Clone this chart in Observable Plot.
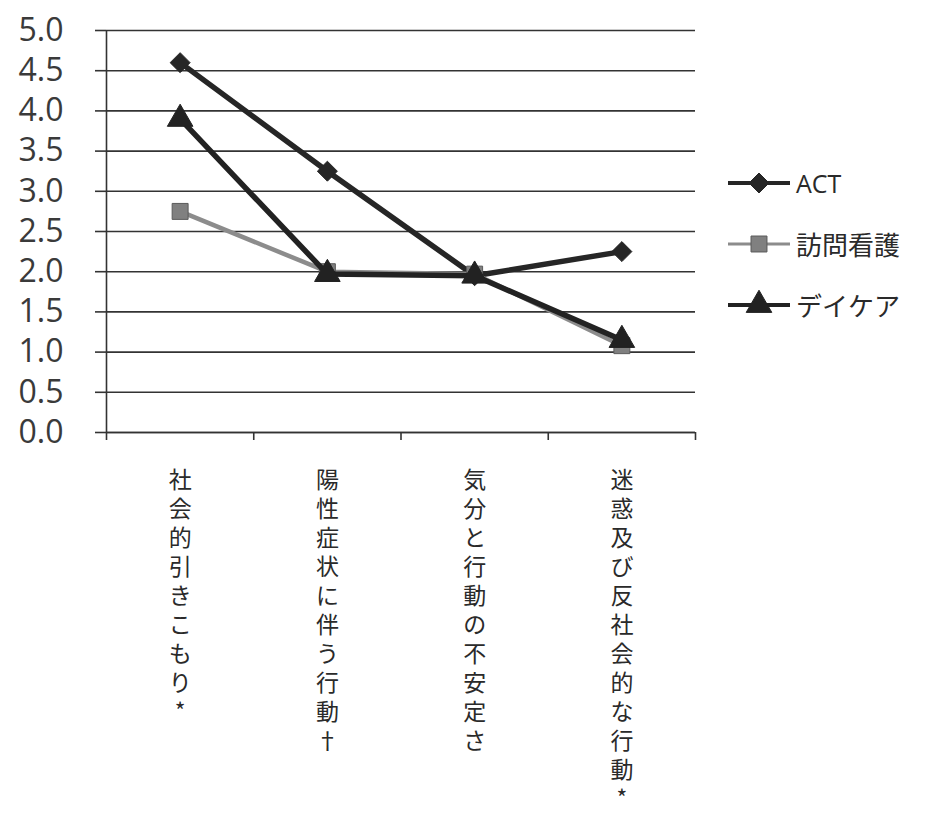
<!DOCTYPE html>
<html>
<head>
<meta charset="utf-8">
<script src="https://cdn.jsdelivr.net/npm/d3@7"></script>
<script src="https://cdn.jsdelivr.net/npm/@observablehq/plot@0.6"></script>
<style>
  body { margin: 0; background: #fff; }
  #wrap { position: relative; width: 927px; height: 815px; }
  #legend { position: absolute; left: 726px; top: 152px; font-family: "Open Sans", "Noto Sans CJK JP", sans-serif; color: #2a2a2a; }
  .row { display: flex; align-items: center; height: 61px; }
  .row span { font-size: 25px; margin-left: 4px; }
  .row span.jp { font-family: "Noto Sans CJK JP", sans-serif; font-size: 26px; }
</style>
</head>
<body>
<div id="wrap"></div>
<script>
const categories = ["社会的引きこもり*", "陽性症状に伴う行動†", "気分と行動の不安定さ", "迷惑及び反社会的な行動*"];
const seriesNames = ["ACT", "訪問看護", "デイケア"];
const actValues = [4.6, 3.25, 1.95, 2.25];
const houmonValues = [2.75, 2.0, 1.97, 1.08];
const daycareValues = [3.9, 1.97, 1.95, 1.15];
const yTicks = [0, 0.5, 1, 1.5, 2, 2.5, 3, 3.5, 4, 4.5, 5];

const styles = {
  "ACT": {stroke: "#262626", fill: "#262626", width: 5.5, symbol: "diamond2", r: 9, mstroke: "#262626"},
  "訪問看護": {stroke: "#8c8c8c", fill: "#808080", width: 4.5, symbol: "square", r: 9, mstroke: "#5a5a5a"},
  "デイケア": {stroke: "#222222", fill: "#222222", width: 5.5, symbol: "triangle", r: 9.5, mstroke: "#222222"}
};
const valuesBy = {"ACT": actValues, "訪問看護": houmonValues, "デイケア": daycareValues};
const rows = seriesNames.flatMap(s => valuesBy[s].map((v, i) => ({series: s, i, value: v})));
const bandEdges = d3.range(categories.length + 1).map(k => k - 0.5);

const seriesMarks = seriesNames.flatMap(s => {
  const st = styles[s];
  const data = rows.filter(r => r.series === s);
  return [
    Plot.line(data, {x: "i", y: "value", stroke: st.stroke, strokeWidth: st.width}),
    Plot.dot(data, {x: "i", y: "value", symbol: () => st.symbol, r: st.r, fill: st.fill, stroke: st.mstroke, strokeWidth: 1})
  ];
});

const chart = Plot.plot({
  width: 927,
  height: 815,
  marginLeft: 106,
  marginRight: 232,
  marginTop: 30,
  marginBottom: 383,
  style: {background: "#fff"},
  x: {domain: [-0.5, categories.length - 0.5], axis: null},
  y: {domain: [0, 5], axis: null},
  symbol: {type: "identity"},
  marks: [
    Plot.gridY(yTicks, {stroke: "#333", strokeOpacity: 1, strokeWidth: 1.6}),
    Plot.axisY(yTicks, {tickFormat: d3.format(".1f"), tickSize: 11, tickPadding: 32, stroke: "#333", strokeWidth: 1.6, fontSize: 32, fill: "#3a3a3a", fontFamily: "Open Sans", label: null}),
    Plot.axisX(bandEdges, {tickFormat: () => "", tickSize: 8, stroke: "#333", strokeWidth: 1.6, label: null}),
    Plot.ruleX([-0.5], {stroke: "#333", strokeWidth: 1.6}),
    Plot.ruleY([0], {stroke: "#333", strokeWidth: 1.6}),
    ...seriesMarks,
    Plot.text(categories, {
      x: (d, i) => i,
      text: d => [...d].join("\n"),
      frameAnchor: "bottom",
      lineAnchor: "top",
      dy: 35,
      lineHeight: 1.26,
      fontSize: 23,
      fill: "#2a2a2a",
      fontFamily: "Noto Sans CJK JP"
    })
  ]
});
document.getElementById("wrap").appendChild(chart);

// legend
const legend = d3.select("#wrap").append("div").attr("id", "legend");
seriesNames.forEach(s => {
  const st = styles[s];
  const row = legend.append("div").attr("class", "row");
  const svg = row.append("svg").attr("width", 66).attr("height", 30);
  svg.append("line").attr("x1", 2).attr("x2", 64).attr("y1", 15).attr("y2", 15)
    .attr("stroke", st.stroke).attr("stroke-width", s === "訪問看護" ? 3 : 4);
  const symType = {diamond2: d3.symbolDiamond2, square: d3.symbolSquare, triangle: d3.symbolTriangle}[st.symbol];
  svg.append("path").attr("transform", "translate(33,15)")
    .attr("d", d3.symbol(symType, st.r * st.r * Math.PI)())
    .attr("fill", st.fill).attr("stroke", st.mstroke);
  row.append("span").attr("class", /[A-Z]/.test(s) ? "" : "jp").text(s);
});
</script>
</body>
</html>
